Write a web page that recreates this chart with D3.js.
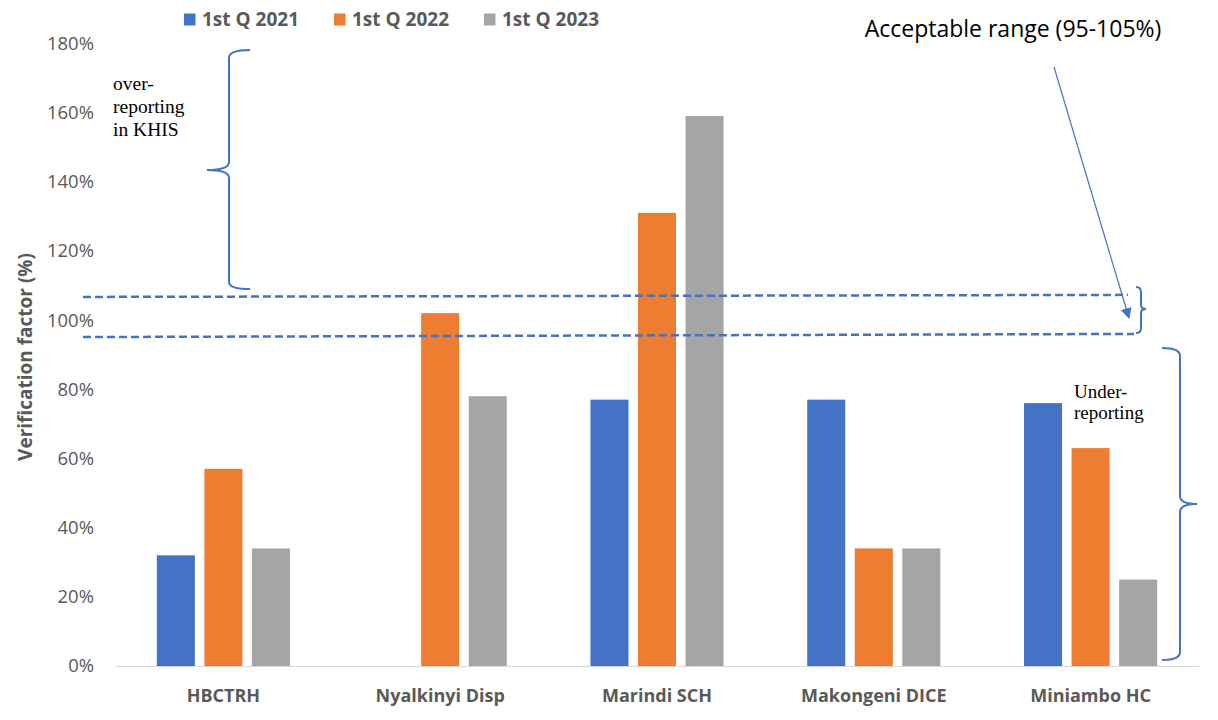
<!DOCTYPE html>
<html>
<head>
<meta charset="utf-8">
<script src="https://cdn.jsdelivr.net/npm/d3@7"></script>
<style>
  body { margin: 0; background: #fff; }
  svg { display: block; font-family: "Open Sans", "Liberation Sans", sans-serif; }
</style>
</head>
<body>
<svg id="chart" width="1218" height="720"></svg>
<script>
const facilities = ["HBCTRH", "Nyalkinyi Disp", "Marindi SCH", "Makongeni DICE", "Miniambo HC"];
const quarters = ["1st Q 2021", "1st Q 2022", "1st Q 2023"];
const q2021 = [32, null, 77, 77, 76];
const q2022 = [57, 102, 131, 34, 63];
const q2023 = [34, 78, 159, 34, 25];
const yTicks = [0, 20, 40, 60, 80, 100, 120, 140, 160, 180];
const colors = ["#4472C4", "#ED7D31", "#A5A5A5"];

const svg = d3.select("#chart");
const series = [q2021, q2022, q2023];

const x = d3.scaleBand()
  .domain(facilities)
  .range([115, 1199]);

const xInner = d3.scaleBand()
  .domain(quarters)
  .range([0, x.bandwidth()])
  .paddingInner(0.2)
  .paddingOuter(0.88);

const y = d3.scaleLinear()
  .domain([0, 180])
  .range([666, 43.4]);

const color = d3.scaleOrdinal().domain(quarters).range(colors);

// y axis labels (no line)
const yAxis = svg.append("g")
  .attr("transform", "translate(94,0)")
  .call(d3.axisLeft(y).tickValues(yTicks).tickFormat(d => d + "%").tickSize(0).tickPadding(0));
yAxis.select(".domain").remove();
yAxis.selectAll("text")
  .style("font-size", "18.5px")
  .style("fill", "#595959")
  .style("font-family", "Open Sans, Liberation Sans, sans-serif");

svg.append("text")
  .attr("transform", "translate(32,357) rotate(-90)")
  .attr("text-anchor", "middle")
  .style("font-size", "19px")
  .style("font-weight", "bold")
  .style("fill", "#595959")
  .text("Verification factor (%)");

// bars
const rows = facilities.map((f, i) => ({ facility: f, values: quarters.map((q, j) => ({ q, v: series[j][i] })) }));

const groups = svg.append("g").selectAll("g")
  .data(rows)
  .join("g")
  .attr("transform", d => `translate(${x(d.facility)},0)`);

groups.selectAll("rect")
  .data(d => d.values.filter(e => e.v != null))
  .join("rect")
  .attr("x", d => xInner(d.q))
  .attr("y", d => y(d.v))
  .attr("width", xInner.bandwidth())
  .attr("height", d => y(0) - y(d.v))
  .attr("fill", d => color(d.q));

// x axis
const xAxis = svg.append("g")
  .attr("transform", `translate(0,${y(0)})`)
  .call(d3.axisBottom(x).tickSize(0).tickPadding(23));
xAxis.select(".domain").attr("stroke", "#D9D9D9").attr("stroke-width", 1.2);
xAxis.selectAll("text")
  .style("font-size", "18px")
  .style("font-weight", "bold")
  .style("fill", "#595959")
  .style("font-family", "Open Sans, Liberation Sans, sans-serif");

// legend
const legend = svg.append("g").selectAll("g")
  .data(quarters)
  .join("g")
  .attr("transform", (d, i) => `translate(${184 + i * 150},0)`);
legend.append("rect")
  .attr("y", 13.5)
  .attr("width", 11.5).attr("height", 12)
  .attr("fill", d => color(d));
legend.append("text")
  .attr("x", 18).attr("y", 26)
  .style("font-size", "19px")
  .style("font-weight", "bold")
  .style("fill", "#595959")
  .text(d => d);

// annotations
const blue = "#4472C4";
const ann = svg.append("g");

ann.append("line")
  .attr("x1", 83).attr("x2", 1128)
  .attr("y1", y(106.7)).attr("y2", y(107.3))
  .attr("stroke", blue).attr("stroke-width", 2.5).attr("stroke-dasharray", "8,4");
ann.append("line")
  .attr("x1", 83).attr("x2", 1134)
  .attr("y1", y(95.1)).attr("y2", y(96))
  .attr("stroke", blue).attr("stroke-width", 2.5).attr("stroke-dasharray", "8,4");

// small bracket for acceptable range
ann.append("path")
  .attr("d", "M1136,287 Q1141,287 1141,292 L1141,305 Q1141,309 1146,309 Q1141,309 1141,313 L1141,328 Q1141,333 1136,333")
  .attr("fill", "none").attr("stroke", blue).attr("stroke-width", 2);

// arrow
svg.append("defs").append("marker")
  .attr("id", "arrow")
  .attr("viewBox", "0 0 10 10")
  .attr("refX", 9).attr("refY", 5)
  .attr("markerWidth", 11).attr("markerHeight", 11)
  .attr("markerUnits", "userSpaceOnUse")
  .attr("orient", "auto")
  .append("path")
  .attr("d", "M0,0 L10,5 L0,10 Z")
  .attr("fill", blue);
ann.append("line")
  .attr("x1", 1054).attr("y1", 67)
  .attr("x2", 1129).attr("y2", 318)
  .attr("stroke", blue).attr("stroke-width", 1.2)
  .attr("marker-end", "url(#arrow)");

ann.append("text")
  .attr("x", 1013).attr("y", 37)
  .attr("text-anchor", "middle")
  .style("font-size", "23px")
  .style("fill", "#000")
  .text("Acceptable range (95-105%)");

// left brace (over-reporting)
ann.append("path")
  .attr("d", "M250,50 Q229,50 229,58 L229,162 Q229,170 207,170 Q229,170 229,178 L229,282 Q229,289 250,289")
  .attr("fill", "none").attr("stroke", blue).attr("stroke-width", 2);

ann.append("text")
  .attr("x", 113).attr("y", 90)
  .style("font-family", "Liberation Serif, DejaVu Serif, serif")
  .style("font-size", "19.5px")
  .style("fill", "#000")
  .selectAll("tspan")
  .data(["over-", "reporting", "in KHIS"])
  .join("tspan")
  .attr("x", 113)
  .attr("dy", (d, i) => i === 0 ? 0 : 23)
  .text(d => d);

// right brace (under-reporting)
ann.append("path")
  .attr("d", "M1162,348 Q1180,348 1180,356 L1180,496 Q1180,504 1197,504 Q1180,504 1180,512 L1180,652 Q1180,660 1162,660")
  .attr("fill", "none").attr("stroke", blue).attr("stroke-width", 2);

ann.append("text")
  .attr("x", 1074).attr("y", 398)
  .style("font-family", "Liberation Serif, DejaVu Serif, serif")
  .style("font-size", "19px")
  .style("fill", "#000")
  .selectAll("tspan")
  .data(["Under-", "reporting"])
  .join("tspan")
  .attr("x", 1074)
  .attr("dy", (d, i) => i === 0 ? 0 : 21)
  .text(d => d);
</script>
</body>
</html>
